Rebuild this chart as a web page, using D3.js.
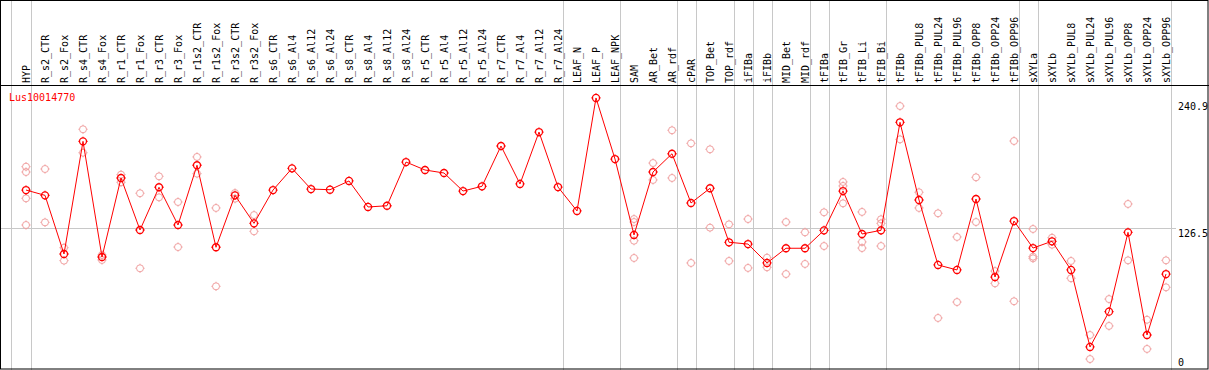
<!DOCTYPE html>
<html><head><meta charset="utf-8">
<script src="https://cdn.jsdelivr.net/npm/d3@7/dist/d3.min.js"></script>
<style>
html,body{margin:0;padding:0;background:#fff;}
svg{display:block;}
text{font-family:"DejaVu Sans Mono",monospace;font-size:10px;}
</style></head>
<body>
<script>
const categories = ["HYP","R_s2_CTR","R_s2_Fox","R_s4_CTR","R_s4_Fox","R_r1_CTR","R_r1_Fox","R_r3_CTR","R_r3_Fox","R_r1s2_CTR","R_r1s2_Fox","R_r3s2_CTR","R_r3s2_Fox","R_s6_CTR","R_s6_Al4","R_s6_Al12","R_s6_Al24","R_s8_CTR","R_s8_Al4","R_s8_Al12","R_s8_Al24","R_r5_CTR","R_r5_Al4","R_r5_Al12","R_r5_Al24","R_r7_CTR","R_r7_Al4","R_r7_Al12","R_r7_Al24","LEAF_N","LEAF_P","LEAF_NPK","SAM","AR_Bet","AR_rdf","cPAR","TOP_Bet","TOP_rdf","iFIBa","iFIBb","MID_Bet","MID_rdf","tFIBa","tFIB_Gr","tFIB_Li","tFIB_Bi","tFIBb","tFIBb_PUL8","tFIBb_PUL24","tFIBb_PUL96","tFIBb_OPP8","tFIBb_OPP24","tFIBb_OPP96","sXYLa","sXYLb","sXYLb_PUL8","sXYLb_PUL24","sXYLb_PUL96","sXYLb_OPP8","sXYLb_OPP24","sXYLb_OPP96"];

const means = [160.8,156.0,103.0,204.8,100.3,171.7,124.7,163.3,129.2,183.2,109.1,156.0,130.7,160.8,180.4,161.7,161.1,169.0,145.5,146.6,186.1,178.9,176.2,159.9,164.2,200.6,166.3,213.2,163.5,141.9,244.0,188.8,120.2,177.1,193.6,149.1,162.4,113.6,112.0,94.9,108.2,108.2,124.4,159.9,121.1,124.4,222.0,151.8,93.1,88.6,152.7,82.2,132.8,108.4,114.5,88.6,19.0,50.9,122.6,29.8,84.9];

const replicates = [
  [181.9,177.1,153.3,129.2],[179.8,131.6],[108.7,97.0],[215.7,194.5],[102.1,97.6],
  [174.7,167.8],[157.9,90.1],[173.2,154.2],[150.0,109.3],[190.7,175.6],
  [144.6,73.8],[158.1,153.0],[138.2,123.5],[],[],
  [],[],[],[],[],
  [],[],[],[],[],
  [],[],[],[],[],
  [],[],[134.6,131.9,115.0,99.4],[185.2,169.9],[214.8,171.7],
  [203.0,94.9],[197.6,126.8],[129.8,96.7],[134.6,90.4],[99.7,91.0],
  [131.9,84.9],[122.6,94.0],[140.7,110.2],[168.1,164.5,148.8],[141.0,113.9,108.4],
  [134.4,130.7,110.2],[236.7,206.6],[158.8,144.6],[139.8,45.2],[118.4,59.6],
  [172.3,131.9],[87.6,76.5],[205.1,60.3],[125.6,100.6,99.1],[117.7,111.4],
  [96.7,81.1],[29.8,8.1],[62.3,38.0],[148.2,97.3],[43.6,17.2],[97.3,72.9]
];

// group boundaries: a separator follows these category indices (-1 = before first)
const groupEnds = [-1,0,28,31,34,35,37,38,39,41,42,45,52,53,60];
const yTicks = [240.9,126.5,0];
const gridValues = [126.5];
const geneName = "Lus10014770";

const W = 1209, H = 370;
const svg = d3.select("body").append("svg").attr("width",W).attr("height",H);

const x = d3.scalePoint().domain(categories).range([26, 26+19*(categories.length-1)]);
const y = d3.scaleLinear().domain([0,250]).range([368, 368-250*140/126.5]);

// separators
const sepX = i => (i<0 ? x(categories[0])-15 : x(categories[i])+4.5);
svg.append("g").selectAll("line").data(groupEnds).join("line")
  .attr("x1",d=>Math.round(sepX(d))+0.5).attr("x2",d=>Math.round(sepX(d))+0.5)
  .attr("y1",0).attr("y2",H).attr("stroke","#c8c8c8").attr("stroke-width",1);

// horizontal grid
svg.append("g").selectAll("line").data(gridValues).join("line")
  .attr("x1",0).attr("x2",1176).attr("y1",d=>Math.round(y(d))+0.5).attr("y2",d=>Math.round(y(d))+0.5)
  .attr("stroke","#c8c8c8");

// frame
svg.append("rect").attr("x",0.5).attr("y",0.5).attr("width",W-1.5).attr("height",368.5)
  .attr("fill","none").attr("stroke","#000");
svg.append("line").attr("x1",0).attr("x2",W).attr("y1",85.5).attr("y2",85.5).attr("stroke","#000");

// category labels
svg.append("g").selectAll("text").data(categories).join("text")
  .attr("transform",d=>`translate(${x(d)+4},83) rotate(-90)`)
  .attr("text-anchor","start").attr("fill","#000").text(d=>d);

// y tick labels
svg.append("g").selectAll("text").data(yTicks).join("text")
  .attr("x",1178).attr("y",d=>Math.min(y(d)+9, 366))
  .attr("fill","#000").text(d=>d);

// gene name
svg.append("text").attr("x",9).attr("y",101).attr("fill","#ff0000").text(geneName);

// marker path: small circle with short ticks
const marker = "M-3.5,0A3.5,3.5 0 1,0 3.5,0A3.5,3.5 0 1,0 -3.5,0M0,-4.6V-3.5M0,3.5V4.6M-4.6,0H-3.5M3.5,0H4.6";

// replicates
const repData = [];
replicates.forEach((arr,i)=>arr.forEach(v=>repData.push({c:categories[i],v})));
svg.append("g").selectAll("path").data(repData).join("path")
  .attr("d",marker).attr("transform",d=>`translate(${x(d.c)},${y(d.v)})`)
  .attr("fill","none").attr("stroke","#f0a0a0").attr("stroke-width",1);

// mean line
const line = d3.line().x((d,i)=>x(categories[i])).y(d=>y(d));
svg.append("path").datum(means).attr("d",line).attr("fill","none").attr("stroke","#ff0000").attr("stroke-width",1);

// mean markers
svg.append("g").selectAll("path").data(means).join("path")
  .attr("d",marker).attr("transform",(d,i)=>`translate(${x(categories[i])},${y(d)})`)
  .attr("fill","none").attr("stroke","#ff0000").attr("stroke-width",1.3);
</script>
</body></html>
